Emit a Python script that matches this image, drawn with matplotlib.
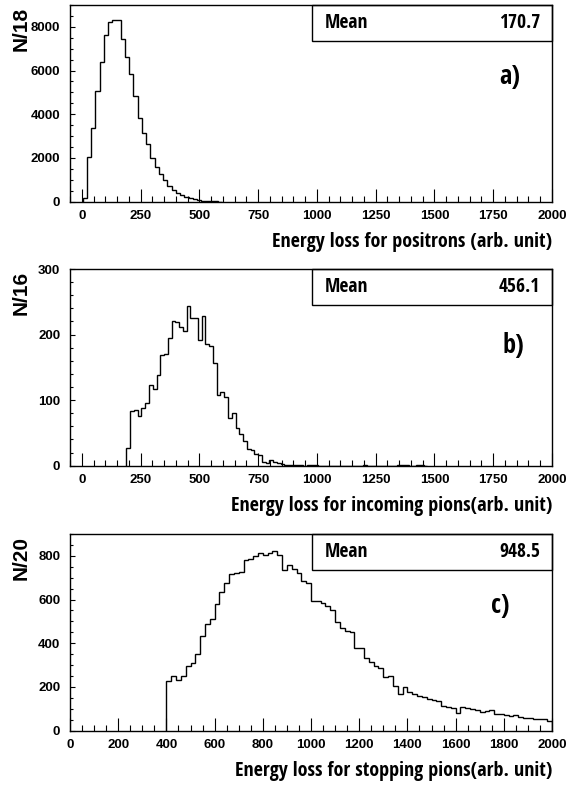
import numpy as np
import matplotlib
matplotlib.use("Agg")
import matplotlib.pyplot as plt
from matplotlib.patches import Rectangle
from matplotlib.ticker import MultipleLocator

# ---- data ----
# a) positrons, bins of 18 starting at 4
pos_first_edge = 4
pos_bin = 18
pos_counts = [150, 2050, 3370, 5080, 6380, 7650, 8230, 8300, 8300, 7450,
              6610, 5830, 4840, 3820, 3160, 2630, 1990, 1600, 1250, 990,
              730, 535, 400, 290, 215, 155, 110, 65, 40, 25, 15, 10, 5]
pos_mean = "170.7"

# b) incoming pions, bins of 16 starting at 190
inc_first_edge = 190
inc_bin = 16
inc_counts = [27.5, 84, 85, 76, 88.5, 95, 123, 116.5, 138, 169,
              170, 195, 221, 219, 212, 206, 244, 225, 225, 192,
              229, 185, 183, 156, 108, 113, 105, 73, 80, 57,
              48, 37, 25.5, 24, 18, 17, 5, 3.5, 8, 5,
              4.5, 3, 1.5, 1, 0.5, 0.5, 1, 0, 0.5, 1.5,
              1, 0, 0, 0, 0, 0, 0, 0, 0, 0,
              0, 0, 0, 1, 0, 0, 0, 0, 0, 0,
              0, 0, 1.5, 1.5, 1, 0, 0, 1, 1, 0]
inc_mean = "456.1"

# c) stopping pions, bins of 20 starting at 400
stop_first_edge = 400
stop_bin = 20
stop_counts = [227, 250, 230, 250, 296, 308, 349, 435, 488, 510,
               578, 636, 674, 715, 720, 728, 781, 786, 800, 812,
               804, 812, 822, 804, 735, 758, 738, 720, 685, 677,
               593, 595, 586, 571, 552, 499, 468, 458, 453, 380,
               380, 331, 316, 296, 288, 247, 250, 206, 168, 201,
               178, 168, 160, 153, 145, 140, 137, 114, 110, 105,
               82, 110, 102, 98, 95, 87, 92, 95, 75, 76,
               72, 67, 72, 64, 60, 60, 53, 53, 52, 46]
stop_mean = "948.5"

# condensed bold faces if any are around, else plain Liberation Sans
NARROW = ['Liberation Sans Narrow', 'Arial Narrow', 'DejaVu Sans Condensed',
          'Noto Sans Condensed', 'Open Sans Condensed', 'Roboto Condensed',
          'Liberation Sans']
REG = ['Liberation Sans', 'DejaVu Sans']

W, H = 566, 789
fig = plt.figure(figsize=(W / 100, H / 100), dpi=100)


def px_axes(left, top, right, bottom):
    return fig.add_axes([left / W, 1 - bottom / H, (right - left) / W, (bottom - top) / H])


panels = [
    dict(top=5, bottom=201.7, counts=pos_counts, e0=pos_first_edge, bw=pos_bin,
         xlim=(-50, 2000), ylim=(0, 9000), xmaj=250, xmin=50, ymaj=2000, ymin=500,
         ylabel="N/18", mean=pos_mean, tag="a)", tagpos=(0.913, 0.635),
         xlabel="Energy loss for positrons (arb. unit)"),
    dict(top=269, bottom=465.7, counts=inc_counts, e0=inc_first_edge, bw=inc_bin,
         xlim=(-50, 2000), ylim=(0, 300), xmaj=250, xmin=50, ymaj=100, ymin=20,
         ylabel="N/16", mean=inc_mean, tag="b)", tagpos=(0.92, 0.612),
         xlabel="Energy loss for incoming pions(arb. unit)"),
    dict(top=534, bottom=730.7, counts=stop_counts, e0=stop_first_edge, bw=stop_bin,
         xlim=(0, 2000), ylim=(0, 900), xmaj=200, xmin=50, ymaj=200, ymin=50,
         ylabel="N/20", mean=stop_mean, tag="c)", tagpos=(0.893, 0.634),
         xlabel="Energy loss for stopping pions(arb. unit)"),
]

for p in panels:
    ax = px_axes(70, p['top'], 552, p['bottom'])
    counts = np.array(p['counts'], dtype=float)
    edges = p['e0'] + p['bw'] * np.arange(len(counts) + 1)
    ax.stairs(counts, edges, color='black', linewidth=1.0, baseline=0)

    ax.set_xlim(*p['xlim'])
    ax.set_ylim(*p['ylim'])
    ax.xaxis.set_major_locator(MultipleLocator(p['xmaj']))
    ax.xaxis.set_minor_locator(MultipleLocator(p['xmin']))
    ax.yaxis.set_major_locator(MultipleLocator(p['ymaj']))
    ax.yaxis.set_minor_locator(MultipleLocator(p['ymin']))
    ax.tick_params(axis='x', which='major', direction='in', length=9.5, width=0.8, pad=6)
    ax.tick_params(axis='x', which='minor', direction='in', length=4.5, width=0.8)
    ax.tick_params(axis='y', which='major', direction='in', length=3.8, width=0.8, pad=7)
    ax.tick_params(axis='y', which='minor', direction='in', length=2.4, width=0.8)
    for lab in ax.get_xticklabels() + ax.get_yticklabels():
        lab.set_fontfamily(REG)
        lab.set_fontweight('bold')
        lab.set_fontsize(9.5)
    for s in ax.spines.values():
        s.set_linewidth(1.0)

    # statistics box
    ax.add_patch(Rectangle((0.502, 0.815), 0.498, 0.185, transform=ax.transAxes,
                           fill=False, edgecolor='black', linewidth=1.0, clip_on=False))
    ax.text(0.528, 0.907, "Mean", transform=ax.transAxes, ha='left', va='center',
            family=NARROW, fontstretch='condensed', fontweight='bold', fontsize=14)
    ax.text(0.975, 0.907, p['mean'], transform=ax.transAxes, ha='right', va='center',
            family=NARROW, fontstretch='condensed', fontweight='bold', fontsize=14)
    ax.text(p['tagpos'][0], p['tagpos'][1], p['tag'], transform=ax.transAxes,
            ha='center', va='center', family=NARROW, fontstretch='condensed',
            fontweight='bold', fontsize=19)

    fig.text(21 / W, 1 - (p['top'] + 2) / H, p['ylabel'], rotation=90, ha='center', va='top',
             family=REG, fontweight='bold', fontsize=15)
    fig.text(552 / W, 1 - (p['bottom'] + 40) / H, p['xlabel'], ha='right', va='center',
             family=NARROW, fontstretch='condensed', fontweight='bold', fontsize=14.4)

fig.savefig("out.png", dpi=100)
